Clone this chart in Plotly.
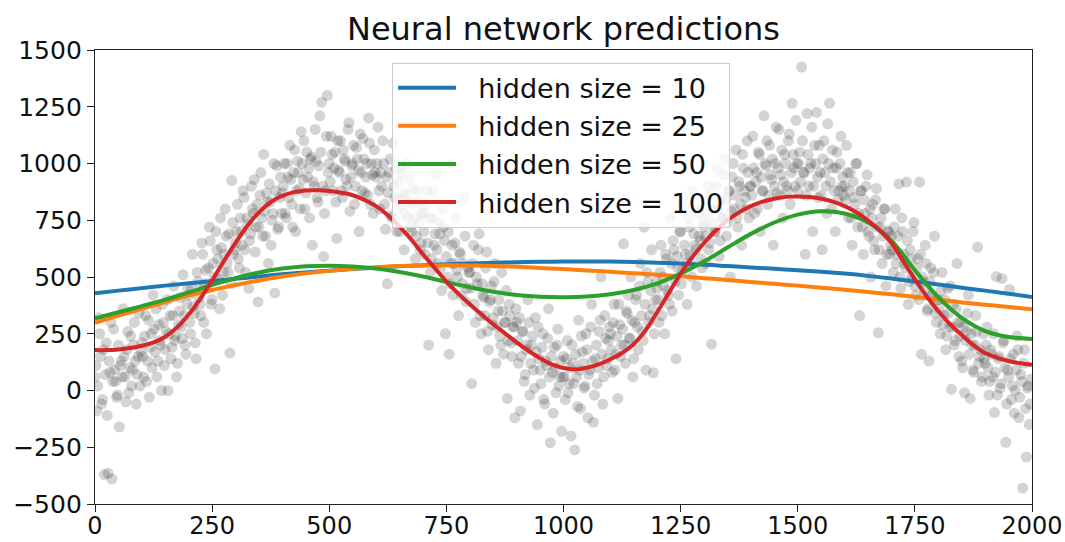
import plotly.graph_objects as go

# Noisy training observations: two interleaved sweeps, each sampled every 4 units along x
obs_x_a = list(range(0, 2000, 4))
obs_y_a = [
    # 0 - 96
    60, -90, 320, 150, -40, -370, 210, -365, 80, -390, 270, 40, -20, -160, 130, 360, 60, 180, -10, 240, 90, 300, -60, 150, 20,
    # 100 - 196
    210, 60, 330, 130, -30, 250, 420, 170, 60, 290, 200, 380, 110, 260, 0, 330, 190, 460, 240, 120, 350, 280, 510, 200, 380,
    # 200 - 296
    420, 250, 600, 340, 140, 480, 380, 650, 300, 530, 450, 720, 380, 560, 95, 620, 490, 760, 420, 600, 680, 520, 165, 925, 600,
    # 300 - 396
    650, 820, 540, 700, 880, 620, 760, 450, 690, 800, 930, 720, 390, 860, 760, 1040, 680, 830, 910, 640, 780, 430, 990, 720, 940,
    # 400 - 496
    870, 1000, 760, 940, 1080, 820, 960, 700, 1010, 890, 1140, 930, 800, 1050, 980, 1020, 640, 900, 1010, 830, 1210, 1270, 590, 880, 1300,
    # 500 - 596
    1000, 1120, 880, 1050, 670, 970, 1100, 850, 1020, 930, 1150, 790, 990, 1080, 900, 1020, 700, 960, 1110, 870, 1000, 1200, 820, 950, 1060,
    # 600 - 696
    940, 1160, 800, 900, 1000, 710, 470, 960, 770, 1090, 850, 700, 920, 810, 990, 620, 860, 760, 930, 700, 820, 580, 880, 740, 650,
    # 700 - 796
    780, 600, 880, 200, 520, 760, 640, 950, 560, 690, 440, 720, 250, 500, 160, 560, 420, 650, 530, 330, 600, 470, 850, 390, 540,
    # 800 - 896
    520, 30, 640, 300, 470, 690, 250, 420, 330, 610, 180, 400, 290, 480, 120, 350, 240, 520, 160, 300, -35, 380, 210, 280, -120,
    # 900 - 996
    300, 120, -90, 260, 40, 180, 400, -20, 200, 90, 320, -150, 140, 30, 250, -60, 110, 360, -230, 80, 190, -10, 270, 60, -180,
    # 1000 - 1096
    150, -40, 220, 30, -200, 120, -262, 60, 310, -80, 170, 10, 250, -120, 90, 380, -140, 140, 30, 260, 500, -60, 330, 110, 220,
    # 1100 - 1196
    250, 80, 380, 160, -35, 290, 200, 646, 120, 340, 230, 500, 60, 300, 420, 180, 560, 260, 720, 90, 480, 330, 620, 78, 400,
    # 1200 - 1296
    450, 300, 640, 500, 250, 580, 420, 760, 350, 620, 140, 540, 700, 470, 820, 600, 380, 720, 560, 880, 640, 460, 780, 660, 540,
    # 1300 - 1396
    720, 560, 900, 650, 204, 800, 700, 980, 590, 840, 760, 1020, 680, 880, 500, 940, 800, 1060, 720, 900, 640, 980, 850, 1100, 760,
    # 1400 - 1496
    900, 1120, 780, 960, 1050, 700, 880, 1210, 990, 820, 1080, 930, 640, 1000, 870, 1150, 950, 760, 1040, 900, 1100, 820, 1265, 980, 1190,
    # 1500 - 1596
    880, 1050, 1425, 960, 600, 1220, 900, 1000, 700, 1080, 1225, 850, 960, 620, 1100, 900, 1175, 1265, 800, 980, 700, 1050, 880, 1120, 940,
    # 1600 - 1696
    900, 1080, 760, 960, 640, 850, 1000, 720, 330, 880, 600, 780, 950, 680, 500, 820, 620, 890, 254, 720, 560, 800, 460, 700, 600,
    # 1700 - 1796
    680, 520, 800, 600, 910, 450, 700, 560, 918, 380, 620, 500, 740, 420, 580, 918, 160, 480, 640, 350, 130, 540, 420, 680, 300,
    # 1800 - 1896
    400, 250, 520, 330, 180, 450, 280, 5, 380, 220, 560, 150, 300, 100, -10, 260, 420, -35, 200, 80, 330, 632, 150, 40, 250,
    # 1900 - 1996
    120, 280, -20, 180, 60, -97, 502, 140, 10, 493, 220, -228, 90, 445, -40, 160, 0, 240, -120, 70, -430, 180, -293, 20, -60,
]

obs_x_b = list(range(2, 2000, 4))
obs_y_b = [
    # 2 - 98
    110, 20, 250, -60, 180, 70, -110, 130, 300, 40, 90, -30, 200, 110, 60, 150, -50, 260, 100, 20, 200, 130, 70, 340, 170,
    # 102 - 198
    150, 240, 40, 310, 190, 100, 270, 360, 130, 220, 0, 300, 180, 400, 250, 140, 330, 220, 60, 290, 410, 230, 330, 160, 450,
    # 202 - 298
    300, 450, 370, 210, 520, 410, 330, 600, 470, 250, 540, 660, 400, 500, 700, 580, 360, 630, 520, 800, 560, 690, 470, 740, 620,
    # 302 - 398
    700, 580, 760, 640, 850, 520, 730, 660, 900, 780, 610, 820, 720, 960, 680, 790, 870, 560, 830, 750, 1000, 880, 710, 850, 780,
    # 402 - 498
    900, 780, 1000, 850, 930, 720, 1060, 880, 960, 800, 1000, 1100, 870, 940, 760, 1030, 920, 1150, 850, 990, 1050, 900, 780, 1120, 960,
    # 502 - 598
    920, 1040, 980, 830, 1100, 960, 880, 1060, 1010, 900, 1180, 940, 1000, 820, 1070, 970, 1130, 880, 1020, 940, 860, 1090, 1000, 780, 960,
    # 602 - 698
    1000, 880, 960, 1100, 820, 940, 870, 1020, 760, 900, 980, 840, 700, 950, 870, 780, 1000, 830, 720, 890, 760, 680, 830, 620, 780,
    # 702 - 798
    700, 820, 650, 760, 580, 880, 690, 620, 740, 540, 800, 660, 590, 700, 470, 640, 560, 760, 500, 610, 420, 560, 680, 450, 520,
    # 802 - 898
    450, 560, 380, 500, 620, 330, 470, 410, 540, 260, 390, 460, 320, 560, 280, 400, 200, 350, 300, 440, 220, 330, 150, 280, 360,
    # 902 - 998
    220, 320, 150, 260, 70, 200, 300, 120, 240, 10, 170, 280, 90, 190, -40, 130, 230, 60, 150, -100, 100, 200, 20, 130, 60,
    # 1002 - 1098
    60, 140, -10, 100, 200, 30, 160, -70, 90, 240, 120, 20, 180, 70, 280, 130, -20, 200, 100, 310, 160, 60, 230, 140, 280,
    # 1102 - 1198
    180, 300, 90, 240, 380, 150, 270, 200, 350, 420, 230, 310, 140, 400, 280, 460, 330, 220, 380, 520, 300, 440, 360, 250, 480,
    # 1202 - 1298
    400, 520, 330, 460, 600, 440, 380, 560, 660, 480, 590, 420, 700, 530, 640, 560, 760, 600, 500, 690, 620, 800, 680, 580, 740,
    # 1302 - 1398
    680, 780, 620, 860, 740, 700, 900, 800, 660, 760, 950, 840, 740, 880, 790, 1000, 860, 760, 920, 820, 1040, 880, 800, 960, 900,
    # 1402 - 1498
    860, 980, 920, 800, 1040, 940, 880, 1000, 1100, 860, 950, 1020, 900, 1160, 980, 860, 1060, 920, 1000, 880, 1130, 960, 1040, 900, 1000,
    # 1502 - 1598
    1000, 920, 1100, 960, 860, 1040, 980, 1160, 900, 1000, 940, 1080, 860, 1020, 960, 780, 1000, 920, 1060, 880, 980, 840, 1000, 900, 860,
    # 1602 - 1698
    840, 960, 880, 760, 920, 820, 1000, 780, 880, 720, 840, 900, 700, 800, 760, 660, 840, 720, 620, 760, 680, 800, 600, 700, 640,
    # 1702 - 1798
    620, 720, 560, 680, 500, 760, 600, 540, 660, 480, 580, 700, 460, 540, 400, 600, 500, 440, 560, 360, 480, 420, 520, 340, 400,
    # 1802 - 1898
    360, 440, 290, 400, 240, 340, 460, 280, 200, 360, 300, 240, 130, 280, 220, 340, 160, 250, 90, 200, 260, 120, 180, 60, 140,
    # 1902 - 1998
    200, 100, 40, 160, 250, 80, -20, 150, 30, 210, 100, -60, 60, 140, 20, -100, 90, 180, -30, 40, 120, -80, 10, -150, 50,
]

# Network predictions evaluated every 50 units (every 25 for the largest network)
pred_x = list(range(0, 2001, 50))
pred_h10 = [428, 440, 451, 462, 472, 482, 492, 502, 512, 520, 528, 535, 541, 547, 552, 556, 560, 563, 565, 567,
            568, 568, 568, 566, 563, 559, 555, 548, 542, 536, 530, 523, 515, 505, 493, 480, 467, 453, 440, 426, 412]
pred_h25 = [298, 330, 360, 390, 418, 443, 465, 485, 502, 516, 527, 536, 543, 548, 551, 552, 551, 549, 545, 540,
            535, 529, 523, 517, 510, 503, 495, 487, 478, 470, 462, 453, 444, 434, 424, 412, 400, 388, 378, 368, 358]
pred_h50 = [318, 345, 372, 400, 432, 465, 495, 520, 537, 547, 550, 546, 537, 522, 502, 478, 455, 435, 421, 413,
            411, 414, 424, 443, 472, 515, 568, 630, 690, 740, 775, 790, 780, 740, 660, 530, 410, 320, 262, 236, 227]

pred_x_fine = list(range(0, 2001, 25))
pred_h100 = [178, 178, 181, 187, 197, 212, 237, 278, 335, 405, 485, 570, 650, 725, 785, 830,
             858, 874, 881, 882, 879, 872, 860, 840, 812, 772, 722, 665, 600, 540, 480, 428,
             380, 335, 292, 252, 212, 175, 142, 115, 99, 93, 100, 115, 138, 165, 205, 265,
             345, 430, 515, 588, 650, 705, 750, 785, 812, 832, 845, 853, 855, 852, 845, 832,
             812, 785, 748, 705, 650, 570, 490, 415, 350, 292, 245, 200, 165, 145, 130, 120, 113]

series = [
    ("hidden size = 10", pred_x, pred_h10, "#1f77b4"),
    ("hidden size = 25", pred_x, pred_h25, "#ff7f0e"),
    ("hidden size = 50", pred_x, pred_h50, "#2ca02c"),
    ("hidden size = 100", pred_x_fine, pred_h100, "#d62728"),
]

x_ticks = [0, 250, 500, 750, 1000, 1250, 1500, 1750, 2000]
y_ticks = [-500, -250, 0, 250, 500, 750, 1000, 1250, 1500]

FONT = "DejaVu Sans"
NBSP = "\u00a0"

fig = go.Figure()
fig.add_trace(go.Scatter(
    x=obs_x_a + obs_x_b, y=obs_y_a + obs_y_b, mode="markers",
    showlegend=False, hoverinfo="skip",
    marker=dict(size=11, color="rgba(0,0,0,0.17)", line=dict(width=0)),
))
for name, xs, vals, color in series:
    fig.add_trace(go.Scatter(
        x=xs, y=vals, mode="lines", name=NBSP * 2 + name, legendgroup=name,
        line=dict(color=color, width=4, shape="spline", smoothing=1.0),
    ))

axis_common = dict(
    showgrid=False, zeroline=False, showline=True, mirror=True, automargin=False,
    linecolor="#222", linewidth=1.3, ticks="outside", ticklen=7, tickwidth=1.3,
    tickcolor="#222",
)
fig.update_xaxes(range=[0, 2000], tickvals=x_ticks, ticklabelstandoff=-7,
                 tickfont=dict(family=FONT, size=24, color="#111"), **axis_common)
fig.update_yaxes(range=[-500, 1500], tickvals=y_ticks,
                 tickfont=dict(family=FONT, size=25, color="#111"), **axis_common)

fig.update_layout(
    width=1065, height=542,
    margin=dict(l=95, r=33, t=50, b=38),
    paper_bgcolor="white", plot_bgcolor="white",
    title=dict(text="Neural network predictions", x=0.5, xref="paper",
               y=1 - 29 / 542, yref="container", yanchor="middle",
               font=dict(family=FONT, size=32, color="#111")),
    legend=dict(
        x=0.317, y=0.972, xanchor="left", yanchor="top",
        bgcolor="rgba(255,255,255,0.8)", bordercolor="#cccccc", borderwidth=1,
        font=dict(family=FONT, size=27, color="#111"),
        tracegroupgap=0, itemwidth=58,
    ),
)

fig.write_html("out.html")
